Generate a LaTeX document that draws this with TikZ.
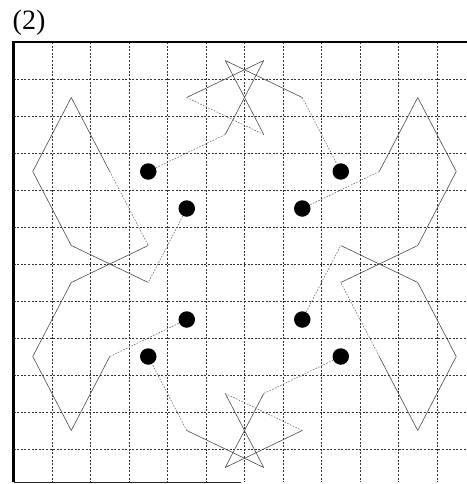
\documentclass[tikz,border=0pt]{standalone}
\usepackage{fontspec}
\setmainfont{Liberation Serif}
\begin{document}
\begin{tikzpicture}[x=1pt,y=-1pt,
  gridline/.style={black!80, line width=0.55pt, dash pattern=on 2pt off 1.6pt},
  solidseg/.style={black!70, line width=0.6pt, line join=round},
  dashseg/.style={black!60, line width=0.55pt, dash pattern=on 1.6pt off 1.4pt},
  dotnode/.style={circle, fill=black, inner sep=0pt, minimum size=16.5pt},
  frameline/.style={black, line width=2.6pt},
  baseline/.style={black!85, line width=1.6pt}]
\useasboundingbox (0,0) rectangle (466,484);
\node[anchor=base west, font=\fontsize{28}{28}\selectfont, inner sep=0pt] (label) at (12.5,30) {(2)};
\begin{scope}[shift={(13.5,42)}, x=38.5pt, y=-37pt]
  % grid
  \foreach \u in {1,...,11} \draw[gridline] (\u,0) -- (\u,11.9);
  \foreach \v in {1,...,11} \draw[gridline] (0,\v) -- (11.76,\v);
  % frame
  \coordinate (fTL) at (0,0);
  \coordinate (fTR) at (11.8,0);
  \coordinate (fBL) at (0,11.9);
  \coordinate (fBR) at (5.9,11.9);
  \draw[frameline] (fTR) -- (fTL) -- (fBL);
  \draw[baseline] (fBL) -- (fBR);
  % dots
  \node[dotnode] (A) at (3.5,3.5) {};
  \node[dotnode] (B) at (8.5,3.5) {};
  \node[dotnode] (C) at (3.5,8.5) {};
  \node[dotnode] (D) at (8.5,8.5) {};
  \node[dotnode] (E) at (4.5,4.5) {};
  \node[dotnode] (F) at (4.5,7.5) {};
  \node[dotnode] (G) at (7.5,7.5) {};
  \node[dotnode] (H) at (7.5,4.5) {};
  % top figure
  \coordinate (T1) at (5.5,0.5); \coordinate (T2) at (6.5,0.5);
  \coordinate (T3) at (4.5,1.5); \coordinate (T4) at (7.5,1.5);
  \coordinate (T5) at (5.5,2.5); \coordinate (T6) at (6.5,2.5);
  % bottom figure
  \coordinate (B1) at (6.5,11.5); \coordinate (B2) at (5.5,11.5);
  \coordinate (B3) at (7.5,10.5); \coordinate (B4) at (4.5,10.5);
  \coordinate (B5) at (6.5,9.5);  \coordinate (B6) at (5.5,9.5);
  % left figure
  \coordinate (L1) at (3.5,6.5); \coordinate (L2) at (1.5,5.5);
  \coordinate (L3) at (0.5,3.5); \coordinate (L4) at (1.5,1.5);
  \coordinate (L5) at (2.5,3.5); \coordinate (L6) at (3.5,5.5);
  \coordinate (L7) at (1.5,6.5); \coordinate (L8) at (0.5,8.5);
  \coordinate (L9) at (1.5,10.5); \coordinate (L10) at (2.5,8.5);
  % right figure
  \coordinate (R1) at (8.5,5.5); \coordinate (R2) at (10.5,6.5);
  \coordinate (R3) at (11.5,8.5); \coordinate (R4) at (10.5,10.5);
  \coordinate (R5) at (9.5,8.5); \coordinate (R6) at (8.5,6.5);
  \coordinate (R7) at (10.5,5.5); \coordinate (R8) at (11.5,3.5);
  \coordinate (R9) at (10.5,1.5); \coordinate (R10) at (9.5,3.5);
  % top path
  \draw[dashseg] (A) -- (T5);
  \draw[solidseg] (T5) -- (T2) -- (T3);
  \draw[dashseg] (T3) -- (T6);
  \draw[solidseg] (T6) -- (T1) -- (T4);
  \draw[dashseg] (T4) -- (B);
  % bottom path
  \draw[dashseg] (D) -- (B5);
  \draw[solidseg] (B5) -- (B2) -- (B3);
  \draw[dashseg] (B3) -- (B6);
  \draw[solidseg] (B6) -- (B1) -- (B4);
  \draw[dashseg] (B4) -- (C);
  % left path
  \draw[dashseg] (E) -- (L1);
  \draw[solidseg] (L1) -- (L2) -- (L3) -- (L4) -- (L5);
  \draw[dashseg] (L5) -- (L6);
  \draw[solidseg] (L6) -- (L7) -- (L8) -- (L9) -- (L10);
  \draw[dashseg] (L10) -- (F);
  % right path
  \draw[dashseg] (G) -- (R1);
  \draw[solidseg] (R1) -- (R2) -- (R3) -- (R4) -- (R5);
  \draw[dashseg] (R5) -- (R6);
  \draw[solidseg] (R6) -- (R7) -- (R8) -- (R9) -- (R10);
  \draw[dashseg] (R10) -- (H);
\end{scope}
\end{tikzpicture}
\end{document}
